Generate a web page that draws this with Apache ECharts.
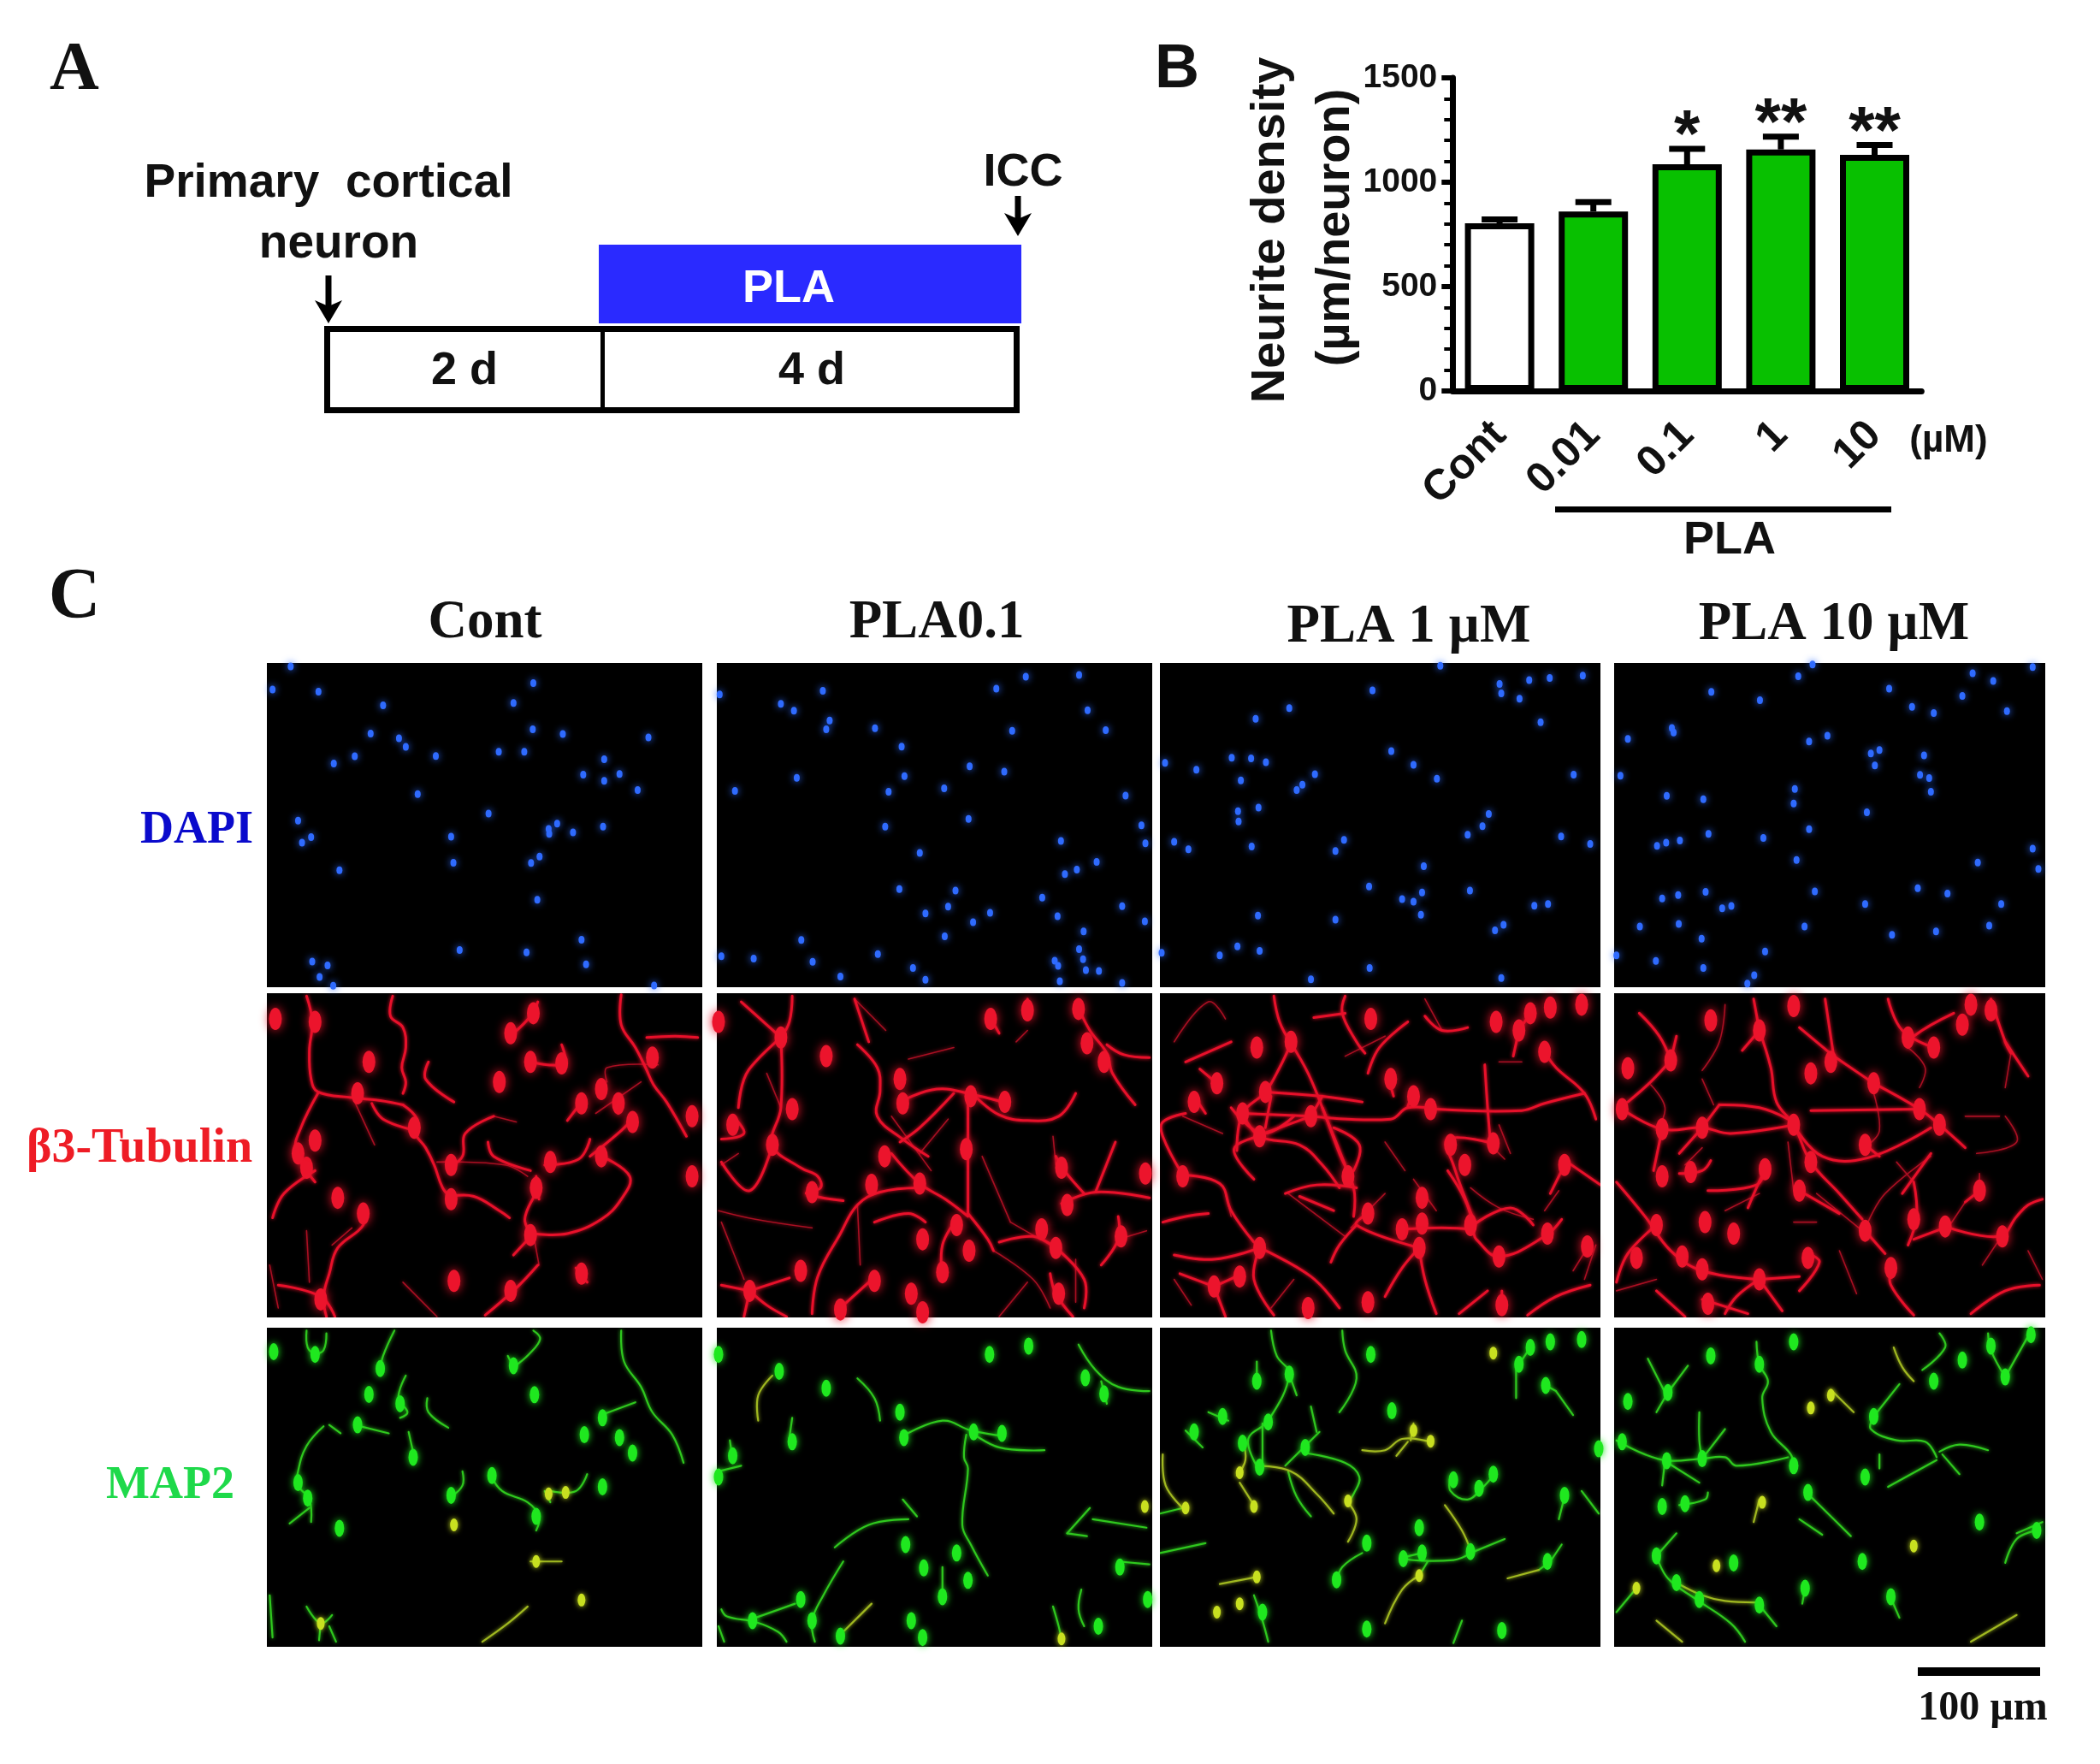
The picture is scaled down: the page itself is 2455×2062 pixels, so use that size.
<!DOCTYPE html>
<html>
<head>
<meta charset="utf-8">
<script src="https://cdn.jsdelivr.net/npm/echarts@6/dist/echarts.min.js"></script>
<style>html,body{margin:0;background:#fff}#main{width:2455px;height:2062px}</style>
</head>
<body>
<div id="main"></div>
<script>
// panel B
var categories = ['Cont', '0.01', '0.1', '1', '10'];
var density = [803, 860, 1086, 1157, 1131];
var errorTop = [822, 905, 1160, 1218, 1178];
var stars = ['', '', '*', '**', '**'];
var yTicks = [0, 500, 1000, 1500];

// panel C, values: x across, y down inside each picture
var colNames = ['Cont', 'PLA0.1', 'PLA 1 µM', 'PLA 10 µM'];
var rowNames = ['DAPI', 'β3-Tubulin', 'MAP2'];

var dapi1 = [[42,12],[10,93],[91,100],[470,70],[205,148],[435,140],[183,247],[233,263],[245,293],[469,232],[522,248],[673,260],[155,326],[118,351],[298,325],[409,310],[454,310],[595,336],[558,390],[622,388],[595,412],[654,444],[266,458],[391,526],[55,551],[512,561],[497,580],[498,597],[593,572],[540,592],[78,608],[62,628],[325,607],[481,676],[329,698],[466,699],[128,724],[477,827],[555,967],[340,1003],[458,1011],[80,1043],[107,1057],[563,1053],[93,1097],[117,1128],[683,1127]];
var dapi2 = [[797,110],[979,97],[1285,90],[1337,48],[1431,42],[905,143],[928,167],[1446,165],[991,201],[985,232],[1071,228],[1313,237],[1478,235],[1118,292],[1238,361],[1299,380],[933,401],[1123,395],[824,447],[1095,450],[1193,438],[1513,463],[1236,545],[1089,572],[1541,567],[1399,622],[1548,630],[1150,664],[1462,695],[1427,722],[1406,738],[1114,790],[1213,795],[1366,820],[1507,850],[1200,851],[1160,875],[1274,873],[1393,885],[1244,906],[1547,903],[1439,938],[1194,955],[941,968],[1431,1000],[800,1025],[857,1033],[1076,1017],[961,1044],[1438,1035],[1388,1040],[1394,1058],[1138,1066],[1443,1073],[1466,1076],[1010,1096],[1160,1107],[1397,1112],[1507,1118]];
var dapi3 = [[497,10],[601,73],[653,60],[689,52],[747,44],[378,96],[604,106],[636,125],[232,158],[173,195],[673,207],[411,308],[131,331],[165,333],[191,347],[14,349],[450,356],[69,373],[277,389],[491,404],[731,390],[147,410],[255,425],[245,444],[178,505],[142,518],[143,554],[582,528],[571,570],[545,600],[709,606],[328,618],[30,625],[55,651],[166,641],[760,632],[313,657],[468,710],[372,781],[465,802],[549,795],[430,825],[450,834],[662,848],[686,842],[177,883],[463,880],[313,897],[608,915],[593,934],[141,990],[180,1006],[110,1022],[8,1013],[373,1066],[270,1105],[604,1101]];
var dapi4 = [[1153,5],[1128,46],[1433,36],[1538,14],[1469,63],[1287,90],[976,101],[1061,130],[1415,115],[1327,153],[1365,175],[1493,168],[907,227],[910,243],[830,265],[1179,254],[1147,274],[1270,304],[1255,316],[1348,323],[1262,358],[817,394],[1341,391],[1357,402],[1122,440],[1360,450],[898,464],[962,476],[1120,491],[1248,522],[1147,581],[971,597],[1067,611],[921,620],[897,628],[881,639],[1538,649],[1125,688],[1442,697],[1548,720],[1337,787],[966,800],[1157,798],[1389,806],[918,811],[890,823],[1245,842],[1483,842],[1011,849],[995,857],[851,921],[919,912],[1139,921],[1292,950],[1369,938],[1462,918],[959,963],[1070,1008],[810,1022],[879,1041],[962,1066],[1051,1091],[1039,1120]];

var red1Paths = [[[625,5],[625,110],[650,190],[668,260],[682,320],[705,380],[740,500]],[[222,10],[218,80],[240,120],[245,190],[238,260],[245,310],[240,350]],[[70,10],[80,100],[75,200],[78,300],[90,345],[150,365],[200,375],[240,390]],[[240,390],[265,440],[262,490],[280,540],[295,600],[310,680],[325,715]],[[185,385],[205,440],[262,480]],[[90,350],[60,470],[50,550],[70,620],[85,660]],[[85,620],[30,700],[10,785]],[[478,30],[465,80],[435,140]],[[400,430],[350,490],[345,570],[320,610]],[[390,520],[400,570],[465,620]],[[325,710],[365,710],[410,760],[428,785]],[[490,600],[550,580],[570,510]],[[475,640],[480,720]],[[590,570],[640,640],[625,720],[590,790],[530,840],[470,840]],[[470,840],[435,915]],[[478,950],[440,1030],[385,1125]],[[170,750],[170,810],[125,890],[110,980],[100,1060],[105,1130]],[[20,1020],[95,1060],[120,1130]],[[545,960],[565,1010]],[[470,850],[455,790],[475,700]],[[555,380],[530,445]],[[622,360],[620,420]],[[650,430],[625,480],[570,570]],[[760,155],[720,150],[670,155]],[[285,240],[280,300],[330,380]],[[465,240],[495,250],[525,245],[520,180]]];
var red1Thin = [[[155,380],[190,530]],[[400,430],[440,450]],[[300,590],[420,600],[460,640]],[[70,830],[75,1010]],[[300,1130],[240,1010]],[[580,420],[660,310]],[[480,950],[470,840]],[[600,310],[600,260],[690,250]],[[115,880],[150,820]],[[5,950],[20,1100]]];
var red1Cells = [[15,90],[85,100],[430,140],[470,70],[180,240],[160,350],[260,470],[410,310],[555,385],[620,385],[645,450],[590,570],[500,590],[325,600],[475,680],[70,610],[55,560],[125,715],[325,720],[170,770],[465,845],[555,980],[430,1040],[95,1070],[750,430],[750,640],[330,1005],[85,515],[590,335],[465,240],[520,245],[680,225]];

var red2Paths = [[[925,10],[920,100],[905,155]],[[835,30],[880,110],[905,155]],[[905,155],[860,240],[840,300],[830,400]],[[905,155],[905,400],[890,530],[940,610],[970,640],[975,680],[950,700],[1015,725]],[[890,530],[850,690],[800,590]],[[1040,180],[1075,260],[1080,340],[1075,430],[1120,510],[1165,570]],[[1035,20],[1060,170]],[[1100,560],[1150,665],[1195,720],[1235,780]],[[1150,680],[1080,695],[1040,740],[1010,840],[970,990],[960,1120]],[[1115,380],[1180,335],[1245,355],[1305,385]],[[1245,355],[1290,425],[1340,445],[1395,430],[1425,350]],[[1235,360],[1235,560],[1235,770]],[[1210,350],[1150,470],[1115,520]],[[1215,790],[1190,880],[1190,1000]],[[1235,770],[1270,860],[1280,900]],[[1070,800],[1130,770],[1160,800]],[[850,1040],[920,995]],[[850,1040],[800,1020]],[[850,1040],[880,1090],[915,1130]],[[850,1040],[840,1130]],[[1430,50],[1450,130],[1480,210],[1490,280],[1530,390]],[[1480,180],[1510,215],[1555,225]],[[1400,735],[1460,695],[1555,715]],[[1460,695],[1495,520]],[[1500,780],[1500,860],[1470,950]],[[1390,890],[1350,850],[1290,870]],[[1390,890],[1440,1000],[1440,1100]],[[1380,980],[1390,1050],[1420,1130]],[[1010,1100],[1060,1010]],[[800,510],[840,490],[820,430]],[[1340,20],[1340,80]],[[1270,70],[1290,140]],[[1390,570],[1405,620],[1440,700]]];
var red2Thin = [[[1035,20],[1090,130]],[[880,280],[905,400]],[[1040,740],[1045,950]],[[1100,430],[1170,620]],[[1200,440],[1150,560]],[[1260,570],[1310,800]],[[1310,800],[1380,880]],[[1385,500],[1390,600]],[[795,760],[860,790],[960,820]],[[800,800],[840,1000]],[[1280,900],[1350,1000],[1380,1100]],[[1425,930],[1425,1080]],[[1500,860],[1550,830]],[[1290,1130],[1340,1010]],[[830,560],[800,600]],[[1130,230],[1210,190]],[[1340,130],[1320,170]]];
var red2Cells = [[905,155],[985,220],[1275,90],[1340,60],[1430,55],[1445,175],[1475,240],[1115,300],[1120,385],[1240,360],[1300,380],[925,405],[820,460],[890,530],[1088,570],[1232,545],[1400,610],[1150,665],[1065,670],[960,695],[1410,740],[1548,630],[1215,810],[1155,860],[1237,900],[1505,850],[1365,825],[1390,890],[1190,975],[940,970],[850,1040],[1070,1005],[1135,1050],[1010,1105],[1155,1115],[1395,1050],[795,100]];

var red3Paths = [[[205,10],[215,100],[235,175]],[[235,175],[215,260],[190,345],[150,420],[140,550]],[[235,175],[265,280],[290,400],[320,560],[345,680],[345,780]],[[330,10],[325,70],[350,170],[365,210]],[[275,85],[330,70]],[[150,420],[180,500],[250,530],[290,600],[320,680]],[[180,500],[135,545],[170,650]],[[190,345],[290,360],[360,380]],[[270,430],[410,440],[440,400],[490,405]],[[490,405],[640,410],[680,385],[750,350]],[[270,430],[180,495]],[[150,420],[270,430]],[[130,400],[185,490],[240,430]],[[200,360],[190,470]],[[290,360],[270,430]],[[290,400],[330,600]],[[310,470],[355,530],[345,620]],[[450,345],[440,395]],[[70,375],[85,420]],[[105,315],[75,265]],[[45,635],[10,500],[10,450],[50,420]],[[45,635],[110,665],[130,760],[170,870]],[[590,525],[510,510],[520,600],[555,790]],[[510,620],[540,720],[555,810]],[[555,810],[620,750],[660,810]],[[430,825],[550,825],[560,860],[600,920],[680,850],[710,790]],[[460,890],[430,960],[400,1060]],[[460,890],[470,1000],[490,1120]],[[460,890],[350,810],[370,770]],[[350,810],[320,880],[305,940]],[[180,890],[100,930],[30,915]],[[180,890],[170,1000],[205,1125]],[[180,890],[270,990],[320,1100]],[[100,1025],[40,980]],[[100,1025],[120,1130]],[[145,985],[100,1025]],[[10,800],[50,780],[90,770]],[[650,1125],[700,1060],[760,1020]],[[680,205],[700,260],[750,350],[770,440]],[[575,250],[580,400],[585,520]],[[715,600],[690,700]],[[720,590],[778,670]],[[405,290],[415,360]],[[635,130],[625,220]],[[655,70],[635,130]],[[440,100],[390,190],[370,280]],[[470,80],[500,130],[545,120]],[[225,700],[280,670],[350,680]],[[250,710],[310,760]],[[130,170],[50,240]],[[530,1120],[580,1040]],[[605,1040],[605,1120]]];
var red3Thin = [[[30,170],[90,30],[120,90]],[[45,430],[115,490]],[[230,700],[330,850]],[[400,520],[435,620]],[[450,650],[490,760]],[[660,790],[600,750],[550,680]],[[755,890],[730,970]],[[705,690],[680,760]],[[580,520],[610,580]],[[600,460],[620,560]],[[400,700],[340,820]],[[240,1000],[200,1100]],[[400,150],[330,220]],[[30,1000],[60,1090]],[[750,1000],[770,880]],[[120,700],[130,780]],[[500,130],[470,20]],[[600,240],[640,240]]];
var red3Cells = [[235,170],[375,90],[175,190],[595,100],[655,70],[690,50],[745,40],[635,130],[680,205],[410,300],[105,315],[65,380],[190,345],[150,420],[270,430],[180,500],[480,405],[450,360],[45,640],[590,525],[515,530],[335,640],[715,600],[465,715],[370,770],[430,825],[465,805],[550,810],[460,890],[685,840],[600,920],[180,890],[100,1025],[145,990],[265,1100],[370,1080],[540,600],[755,885],[605,1090]];

var red4Paths = [[[850,70],[885,150],[905,235]],[[915,150],[905,235]],[[905,235],[870,310],[830,380]],[[1050,20],[1060,130]],[[1060,130],[1080,260],[1090,380],[1120,460],[1150,590],[1200,700],[1240,790]],[[1060,130],[1030,200]],[[1130,120],[1190,220]],[[1175,20],[1190,220]],[[1190,220],[1260,315]],[[1260,315],[1340,405],[1375,460],[1420,540]],[[1285,20],[1310,130],[1365,190]],[[1465,20],[1490,170],[1500,210]],[[1400,70],[1330,150],[1320,190]],[[820,405],[890,475],[960,470],[1010,490],[1120,460]],[[990,390],[960,470]],[[990,390],[1060,400],[1110,440]],[[1150,410],[1340,405]],[[890,475],[875,620]],[[960,470],[920,560]],[[1120,460],[1170,570],[1250,575],[1360,470]],[[1245,530],[1270,570]],[[1070,615],[1055,680],[1040,750]],[[1070,615],[1055,670],[970,690]],[[920,630],[960,620],[975,585]],[[1130,690],[1200,770]],[[810,660],[860,780],[905,900],[960,970],[1060,1000]],[[880,810],[830,910],[810,1010]],[[1060,1000],[1020,1060],[1000,1120]],[[1060,1000],[1100,1110]],[[880,1040],[930,1130]],[[960,1070],[1040,1120]],[[1060,1000],[1130,990]],[[1290,960],[1290,1020],[1330,1125]],[[1145,910],[1165,940],[1130,1040]],[[1245,830],[1280,910]],[[1330,660],[1335,780],[1320,880]],[[1390,815],[1330,860]],[[1385,815],[1480,850],[1510,780],[1530,740],[1555,720]],[[1445,690],[1420,730]],[[1430,1120],[1490,1040],[1550,1020]],[[1490,170],[1530,290]],[[1360,560],[1310,700]]];
var red4Thin = [[[1000,40],[990,170],[960,270]],[[870,320],[895,400],[880,480]],[[960,300],[980,390]],[[1260,350],[1270,480],[1250,530]],[[1320,190],[1350,260],[1340,330]],[[1500,210],[1490,330]],[[1420,430],[1480,430]],[[1490,430],[1510,520],[1440,560]],[[1360,570],[1280,700],[1250,800]],[[1330,660],[1300,590]],[[1445,630],[1445,690]],[[1420,730],[1390,820]],[[1110,520],[1120,690]],[[1060,700],[1000,760]],[[1120,800],[1160,800]],[[960,540],[930,600]],[[810,1040],[880,1000]],[[1200,900],[1230,1050]],[[1450,950],[1480,860]],[[1530,900],[1555,1000]],[[1160,700],[1240,830]]];
var red4Cells = [[975,95],[1120,45],[1060,130],[905,235],[830,262],[1150,280],[1185,240],[1260,315],[1415,110],[1365,190],[1320,155],[1430,40],[1465,60],[820,405],[890,475],[960,470],[1120,460],[1340,405],[1375,460],[1245,530],[1150,590],[890,640],[940,625],[1070,615],[1445,690],[965,800],[1015,840],[1130,690],[1245,830],[1330,790],[1385,815],[1485,850],[880,810],[845,925],[925,920],[960,965],[1060,1000],[1290,960],[1145,925],[970,1085]];

var green1Paths = [[[70,10],[72,70],[85,95]],[[105,20],[100,80],[85,95]],[[225,10],[205,100],[200,150]],[[245,170],[232,250],[248,300],[235,320]],[[283,250],[285,300],[320,355]],[[470,10],[482,40],[462,95],[435,140]],[[425,100],[435,140]],[[625,10],[630,120],[660,210],[680,300],[715,380],[735,480]],[[100,350],[70,420],[55,510],[55,560],[75,610],[78,690]],[[75,640],[40,695]],[[155,345],[215,375]],[[250,370],[260,460]],[[590,310],[650,265]],[[395,525],[415,580],[460,620],[480,670],[475,720]],[[345,510],[345,560],[325,600]],[[490,580],[500,620]],[[565,520],[545,580],[500,580]],[[70,990],[95,1050],[115,1020]],[[95,1050],[92,1110]],[[110,1060],[122,1115]],[[5,950],[10,1100]],[[110,345],[130,375]]];
var green1Cells = [[12,85],[85,95],[435,135],[180,237],[235,270],[472,238],[160,345],[258,460],[560,380],[622,390],[645,445],[592,320],[397,525],[592,565],[325,595],[72,605],[55,550],[475,670],[128,712],[200,145]];
var green1Yellow = [[[465,830],[520,830]],[[460,990],[425,1050],[380,1115]]];
var green1YellowCells = [[497,590],[527,585],[330,700],[475,830],[555,967],[95,1050]];

var green2Paths = [[[925,320],[920,390]],[[1040,180],[1070,250],[1080,330]],[[1120,385],[1190,330],[1240,365],[1300,385]],[[1240,370],[1290,425],[1370,435]],[[1232,380],[1228,460],[1235,500],[1225,700],[1240,770],[1270,880]],[[1430,60],[1460,150],[1500,210],[1555,225]],[[1470,190],[1480,270]],[[1120,610],[1145,670]],[[1130,680],[1060,700],[1000,780]],[[1015,830],[980,950],[960,1040],[965,1115]],[[800,1000],[810,1025],[860,1045],[900,1080],[915,1115]],[[860,1030],[930,980]],[[795,1060],[805,1115]],[[795,510],[835,490]],[[815,400],[820,470]],[[1435,930],[1430,1000],[1440,1060]],[[1385,990],[1395,1060],[1400,1105]],[[1410,730],[1450,640]],[[1410,730],[1445,740]],[[1455,680],[1550,710]],[[1500,830],[1555,840]],[[1190,850],[1190,960]]];
var green2Cells = [[795,95],[902,155],[985,215],[1273,95],[1342,65],[1442,178],[1475,235],[1115,300],[925,405],[1122,390],[1245,370],[1295,375],[820,455],[1125,770],[1215,800],[1157,853],[1235,897],[1190,955],[940,965],[960,1040],[855,1040],[1135,1040],[1010,1095],[1155,1100],[1465,1060],[1503,850],[1552,965],[795,530]];
var green2Yellow = [[[890,170],[865,240],[865,330]],[[1065,980],[1010,1090]]];
var green2YellowCells = [[1547,635],[1400,1105]];

var green3Paths = [[[200,10],[210,100],[232,165],[195,330],[160,395],[175,490]],[[232,165],[245,240]],[[185,340],[185,490]],[[175,120],[175,205]],[[260,420],[285,370]],[[260,420],[225,490]],[[260,445],[330,480],[355,530],[345,590],[335,620]],[[325,10],[330,80],[350,180],[320,300]],[[270,280],[280,370]],[[5,660],[45,640]],[[90,300],[125,330]],[[50,365],[80,425]],[[515,525],[515,580],[545,610],[570,570],[590,525]],[[550,800],[520,825],[430,820],[465,800]],[[550,800],[610,750]],[[475,830],[460,880]],[[690,830],[670,860]],[[690,830],[710,770]],[[360,800],[325,850],[315,905]],[[170,950],[185,1040],[195,1115]],[[520,1120],[535,1040]],[[700,225],[730,310]],[[682,205],[700,225]],[[630,130],[630,250]],[[655,70],[635,130]],[[5,800],[85,765]],[[715,600],[705,680]],[[745,580],[775,660]],[[230,510],[245,600],[270,670]]];
var green3Cells = [[232,165],[175,190],[195,335],[375,95],[655,70],[635,130],[690,50],[745,42],[682,205],[412,295],[65,370],[115,315],[150,410],[260,425],[180,495],[520,540],[590,520],[565,570],[715,595],[460,710],[368,765],[432,820],[465,800],[550,795],[685,830],[315,895],[185,1010],[368,1070],[605,1075],[775,430]];
var green3Yellow = [[[150,400],[155,470],[140,525]],[[145,550],[170,630]],[[175,490],[235,510],[280,590],[310,660]],[[10,450],[15,560],[45,640]],[[335,620],[350,680],[335,760]],[[450,340],[445,400]],[[480,405],[430,395],[400,435],[360,435]],[[440,405],[420,455]],[[505,630],[535,720],[550,790]],[[460,880],[430,930],[400,1050]],[[670,860],[615,890]],[[175,885],[110,910]]];
var green3YellowCells = [[590,90],[480,403],[450,365],[50,640],[335,615],[175,885],[145,515],[170,635],[460,880],[145,980],[105,1010]];

var green4Paths = [[[1055,50],[1060,130],[1075,190],[1065,250],[1080,370],[1115,450],[1120,495]],[[865,110],[895,230]],[[935,135],[900,230]],[[900,230],[880,300]],[[810,400],[860,450],[900,472],[960,465],[1000,460],[1020,490],[1110,460]],[[955,300],[955,400],[960,465]],[[1000,360],[960,465]],[[895,472],[890,560]],[[900,480],[955,550]],[[1305,200],[1260,315]],[[1260,315],[1255,360],[1300,400],[1350,405],[1370,460]],[[1270,450],[1270,500]],[[1370,470],[1285,565]],[[1375,440],[1410,415],[1460,435]],[[1380,450],[1410,520]],[[1145,590],[1180,660],[1220,740]],[[1130,680],[1170,735]],[[920,630],[965,610],[970,585]],[[880,810],[900,890],[950,965],[1010,1050],[1035,1115]],[[880,810],[915,730]],[[1060,985],[1090,1060]],[[845,925],[810,1010]],[[1490,835],[1510,750],[1545,720]],[[1510,730],[1555,690]],[[1460,20],[1465,80],[1490,175]],[[1490,175],[1530,30]],[[1375,20],[1385,70],[1345,150]],[[1290,960],[1305,1030]],[[1140,925],[1135,980]]];
var green4Cells = [[1120,50],[975,100],[1060,130],[830,262],[900,230],[1260,315],[1415,115],[1365,190],[1465,65],[1535,25],[820,405],[898,472],[960,465],[1120,490],[1245,530],[1145,585],[890,635],[930,625],[1445,690],[1545,720],[1240,830],[1015,835],[880,810],[915,905],[955,965],[1060,985],[1140,925],[1290,955],[1490,175]];
var green4Yellow = [[[1295,70],[1310,140],[1330,190]],[[1185,220],[1225,300]],[[1060,610],[1050,690]],[[915,905],[960,950],[1000,970],[1060,975]],[[880,1040],[925,1115]],[[1430,1115],[1510,1020]]];
var green4YellowCells = [[1150,285],[845,925],[1065,620],[985,845],[1330,775],[1185,240]];

var dapiSets = [dapi1, dapi2, dapi3, dapi4];
var redPaths = [red1Paths, red2Paths, red3Paths, red4Paths];
var redThin = [red1Thin, red2Thin, red3Thin, red4Thin];
var redCells = [red1Cells, red2Cells, red3Cells, red4Cells];
var greenPaths = [green1Paths, green2Paths, green3Paths, green4Paths];
var greenCells = [green1Cells, green2Cells, green3Cells, green4Cells];
var yellowPaths = [green1Yellow, green2Yellow, green3Yellow, green4Yellow];
var yellowCells = [green1YellowCells, green2YellowCells, green3YellowCells, green4YellowCells];

// layout in pixels
var colBox = [[312, 821], [838, 1347], [1356, 1871], [1887, 2391]];
var colRange = [[0, 768], [792, 1560], [5, 778], [806, 1560]];
var rowBox = [[775, 1154], [1161, 1540], [1552, 1925]];

var SANS = '"Liberation Sans"';
var SERIF = '"Liberation Serif"';

var chart = echarts.init(document.getElementById('main'), null, { renderer: 'canvas' });

var grids = [{ left: 1698.3, top: 91, width: 548, height: 366 }];
var xAxes = [{
  type: 'category', gridIndex: 0, data: categories,
  axisLine: { lineStyle: { color: '#000', width: 7 } },
  axisTick: { alignWithLabel: true, length: 18, lineStyle: { color: '#000', width: 5 } },
  axisLabel: { rotate: 45, interval: 0, margin: 44, color: '#111', fontFamily: SANS, fontWeight: 'bold', fontSize: 50 }
}];
var yAxes = [{
  type: 'value', gridIndex: 0, min: yTicks[0], max: yTicks[3], interval: 500,
  axisLine: { show: true, lineStyle: { color: '#000', width: 7 } },
  axisTick: { show: true, length: 13, lineStyle: { color: '#000', width: 6 } },
  minorTick: { show: true, splitNumber: 5, length: 10, lineStyle: { color: '#000', width: 4 } },
  splitLine: { show: false },
  axisLabel: { margin: 18, color: '#111', fontFamily: SANS, fontWeight: 'bold', fontSize: 39, formatter: function (v) { return String(v); } }
}];

var series = [{
  type: 'bar', xAxisIndex: 0, yAxisIndex: 0, barWidth: 81, silent: true,
  data: density.map(function (v, i) {
    return { value: v, itemStyle: { color: i === 0 ? '#fff' : '#08c000', borderColor: '#000', borderWidth: 7 } };
  })
}, {
  type: 'custom', xAxisIndex: 0, yAxisIndex: 0, silent: true, z: 3,
  data: density.map(function (v, i) { return [i, v, errorTop[i]]; }),
  renderItem: function (params, api) {
    var base = api.coord([api.value(0), api.value(1)]);
    var top = api.coord([api.value(0), api.value(2)]);
    var kids = [
      { type: 'line', shape: { x1: base[0], y1: base[1], x2: top[0], y2: top[1] }, style: { stroke: '#000', lineWidth: 7 } },
      { type: 'line', shape: { x1: top[0] - 21, y1: top[1], x2: top[0] + 21, y2: top[1] }, style: { stroke: '#000', lineWidth: 7 } }
    ];
    var star = stars[params.dataIndex];
    if (star) {
      kids.push({ type: 'text', x: top[0], y: top[1] - 12, style: { text: star, font: 'bold 78px ' + SANS, fill: '#111', textAlign: 'center', textVerticalAlign: 'middle' } });
    }
    return { type: 'group', children: kids };
  }
}];

function pathSeries(gi, paths, color, width) {
  return {
    type: 'custom', xAxisIndex: gi, yAxisIndex: gi, silent: true, clip: true,
    data: paths.map(function (p, i) { return [i, 0]; }),
    renderItem: function (params, api) {
      var pts = paths[params.dataIndex].map(function (p) { return api.coord(p); });
      return { type: 'polyline', shape: { points: pts, smooth: 0.4 }, style: { stroke: color, fill: null, lineWidth: width, lineCap: 'round', shadowBlur: 4, shadowColor: color } };
    }
  };
}
function dotSeries(gi, points, color, size, glow) {
  return {
    type: 'scatter', xAxisIndex: gi, yAxisIndex: gi, silent: true, symbol: 'circle', symbolSize: size, data: points,
    itemStyle: { color: color, opacity: 1, shadowBlur: glow, shadowColor: color }
  };
}

rowBox.forEach(function (row, r) {
  colBox.forEach(function (col, c) {
    var gi = grids.length;
    grids.push({ left: col[0], top: row[0], width: col[1] - col[0], height: row[1] - row[0], show: true, backgroundColor: '#000', borderWidth: 0 });
    xAxes.push({ type: 'value', gridIndex: gi, show: false, min: colRange[c][0], max: colRange[c][1] });
    yAxes.push({ type: 'value', gridIndex: gi, show: false, inverse: true, min: 0, max: 1133 });
    if (r === 0) {
      series.push(dotSeries(gi, dapiSets[c], '#2f6bff', [7, 9], 8));
    } else if (r === 1) {
      series.push(pathSeries(gi, redThin[c], '#a80f22', 1.6));
      series.push(pathSeries(gi, redPaths[c], '#e8102a', 3));
      series.push(dotSeries(gi, redCells[c], '#ec142c', [15, 26], 12));
    } else {
      series.push(pathSeries(gi, greenPaths[c], '#2fc81e', 2.2));
      series.push(pathSeries(gi, yellowPaths[c], '#a0b820', 2.2));
      series.push(dotSeries(gi, greenCells[c], '#1fe81f', [11, 20], 9));
      series.push(dotSeries(gi, yellowCells[c], '#c8e020', [9, 15], 6));
    }
  });
});

function label(text, x, y, font, fill, rotation) {
  return { type: 'text', x: x, y: y + 4, rotation: rotation || 0, silent: true, style: { text: text, font: font, fill: fill || '#111', textAlign: 'center', textVerticalAlign: 'middle' } };
}
function box(x, y, w, h, fill) {
  return { type: 'rect', silent: true, shape: { x: x, y: y, width: w, height: h }, style: { fill: fill || '#000' } };
}
function arrow(x, y1, y2) {
  return [
    box(x - 3.5, y1, 7, y2 - y1 - 18),
    { type: 'polygon', silent: true, shape: { points: [[x - 16, y2 - 27], [x, y2 - 20], [x + 16, y2 - 27], [x, y2]] }, style: { fill: '#000' } }
  ];
}

var sansB = function (s) { return 'bold ' + s + 'px ' + SANS; };
var serifB = function (s) { return 'bold ' + s + 'px ' + SERIF; };

var graphics = [
  // panel letters
  label('A', 87, 79, serifB(80)), label('B', 1376, 78, sansB(72)), label('C', 87, 696, serifB(84)),
  // panel A schematic
  label('Primary  cortical', 384, 211, sansB(55)), label('neuron', 396, 282, sansB(55)),
  label('ICC', 1196, 198, sansB(54)),
  box(700, 286, 494, 92, '#2a2aff'), label('PLA', 922, 334, sansB(54), '#fff'),
  box(379, 381, 813, 7), box(379, 476, 813, 7), box(379, 381, 7, 102), box(1185, 381, 7, 102), box(702, 381, 5, 102),
  label('2 d', 543, 430, sansB(54)), label('4 d', 949, 430, sansB(54)),
  // panel B text
  label('Neurite density', 1486, 265, sansB(56), '#111', Math.PI / 2),
  label('(µm/neuron)', 1562, 262, sansB(56), '#111', Math.PI / 2),
  label('(µM)', 2278, 512, sansB(44)),
  box(1818, 592, 393, 7), label('PLA', 2022, 628, sansB(54)),
  // scale bar
  box(2242, 1949, 143, 10), label('100 µm', 2318, 1994, serifB(48))
].concat(arrow(384, 322, 378), arrow(1190, 229, 276));

var titleX = [567, 1095, 1647, 2144];
var titleY = [725, 725, 730, 727];
colNames.forEach(function (n, i) { graphics.push(label(n, titleX[i], titleY[i], serifB(63))); });
graphics.push(label(rowNames[0], 230, 967, serifB(54), '#0a0acc'));
graphics.push(label(rowNames[1], 163, 1340, serifB(56), '#ee1c25'));
graphics.push(label(rowNames[2], 199, 1733, serifB(54), '#1ed94a'));

chart.setOption({
  animation: false,
  backgroundColor: '#fff',
  grid: grids,
  xAxis: xAxes,
  yAxis: yAxes,
  series: series,
  graphic: graphics
});
</script>
</body>
</html>
